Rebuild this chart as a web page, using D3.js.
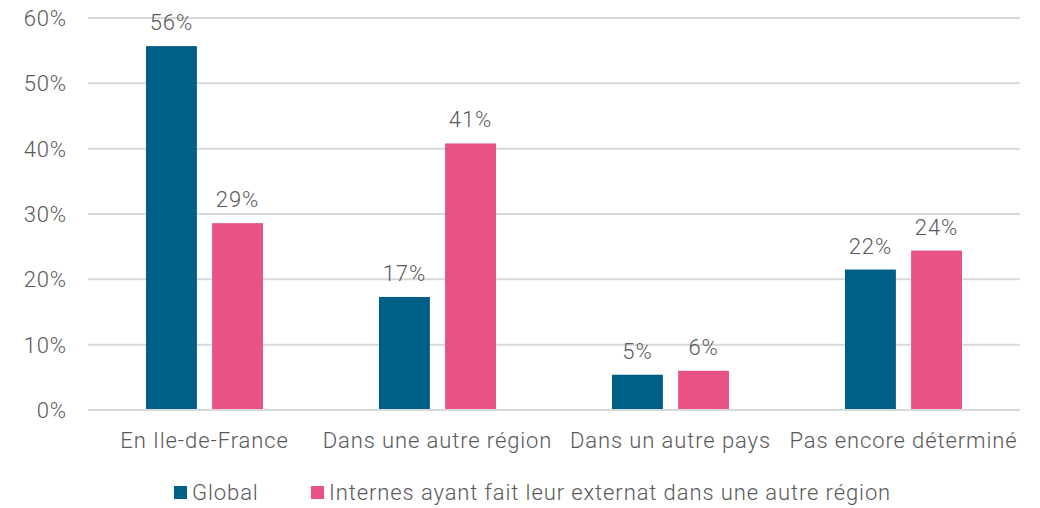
<!DOCTYPE html>
<html>
<head>
  <style>
    body{ margin:0; background:#fff; }
    svg{ font-family: Roboto, sans-serif; font-weight:300; }
    .tick-label, .cat-label, .val-label, .legend-label{ fill:#595959; font-size:22px; letter-spacing:0.9px; }
    .grid line{ stroke:#d9d9d9; stroke-width:2; }
  </style>
  <script src="https://d3js.org/d3.v7.min.js"></script>
</head>
<body>
<div class="chart"></div>
<script>
const categories = ['En Ile-de-France', 'Dans une autre région', 'Dans un autre pays', 'Pas encore déterminé'];
const seriesNames = ['Global', 'Internes ayant fait leur externat dans une autre région'];
const globalValues = [0.557, 0.173, 0.054, 0.215];
const internesValues = [0.286, 0.408, 0.060, 0.244];
const valueLabels = [['56%', '17%', '5%', '22%'], ['29%', '41%', '6%', '24%']];
const yTicks = [0, 0.1, 0.2, 0.3, 0.4, 0.5, 0.6];
const colors = ['#005f87', '#e85284'];

const width = 1040, height = 508;
const svg = d3.select('.chart').append('svg')
  .attr('width', width).attr('height', height);

const x = d3.scaleBand().domain(categories).range([88, 1020]).paddingInner(0).paddingOuter(0);
const x1 = d3.scaleBand().domain(seriesNames).range([58, x.bandwidth() - 58]).paddingInner(0.23);
const y = d3.scaleLinear().domain([0, 0.6]).range([410, 18]);

// gridlines
svg.append('g').attr('class', 'grid')
  .selectAll('line').data(yTicks).join('line')
  .attr('x1', 88).attr('x2', 1020)
  .attr('y1', d => y(d)).attr('y2', d => y(d));

// y labels
svg.append('g').selectAll('text').data(yTicks).join('text')
  .attr('class', 'tick-label')
  .attr('x', 67).attr('y', d => y(d) + 8)
  .attr('text-anchor', 'end')
  .text(d3.format('.0%'));

const series = [globalValues, internesValues];
const groups = svg.append('g').selectAll('g').data(series).join('g')
  .attr('fill', (d, i) => colors[i]);

groups.each(function(vals, si){
  const g = d3.select(this);
  g.selectAll('rect').data(vals).join('rect')
    .attr('x', (d, i) => x(categories[i]) + x1(seriesNames[si]))
    .attr('y', d => y(d))
    .attr('width', x1.bandwidth())
    .attr('height', d => y(0) - y(d));
  g.selectAll('text').data(vals).join('text')
    .attr('class', 'val-label')
    .attr('x', (d, i) => x(categories[i]) + x1(seriesNames[si]) + x1.bandwidth() / 2)
    .attr('y', d => y(d) - 16)
    .attr('text-anchor', 'middle')
    .text((d, i) => valueLabels[si][i]);
});

// redraw zero line on top
svg.append('line')
  .attr('x1', 88).attr('x2', 1020).attr('y1', y(0)).attr('y2', y(0))
  .attr('stroke', '#d9d9d9').attr('stroke-width', 2);

// category labels
svg.append('g').selectAll('text').data(categories).join('text')
  .attr('class', 'cat-label')
  .attr('x', d => x(d) + x.bandwidth() / 2)
  .attr('y', 448)
  .attr('text-anchor', 'middle')
  .text(d => d);

// legend
const legendX = [174, 311];
const legend = svg.append('g').selectAll('g').data(seriesNames).join('g')
  .attr('transform', (d, i) => `translate(${legendX[i]},486)`);
legend.append('rect').attr('width', 13).attr('height', 13).attr('fill', (d, i) => colors[i]);
legend.append('text').attr('class', 'legend-label')
  .attr('x', 18).attr('y', 14).text(d => d);
</script>
</body>
</html>
